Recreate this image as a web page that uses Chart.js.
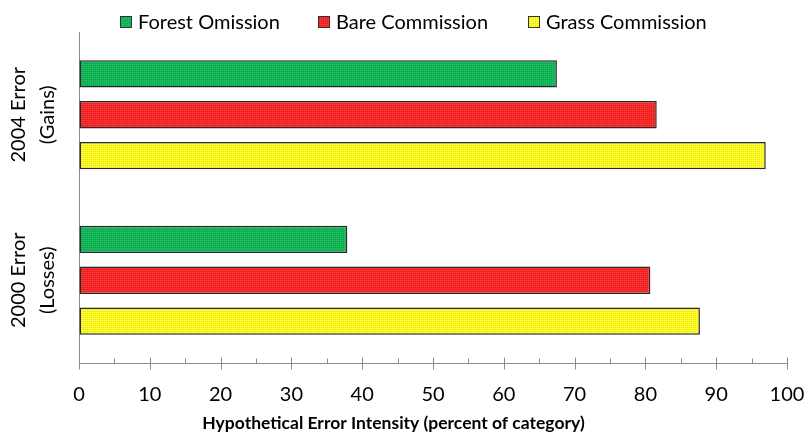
<!DOCTYPE html>
<html>
<head>
<meta charset="utf-8">
<script src="https://cdn.jsdelivr.net/npm/chart.js@4/dist/chart.umd.min.js"></script>
<style>
  html, body { margin: 0; padding: 0; background: #fff; }
  #wrap { width: 807px; height: 434px; }
</style>
</head>
<body>
<div id="wrap"><canvas id="errorChart" width="807" height="434"></canvas></div>
<script>
// values
const categories = [['2004 Error', '(Gains)'], ['2000 Error', '(Losses)']];
const seriesNames = ['Forest Omission', 'Bare Commission', 'Grass Commission'];
const forestOmission = [67.5, 37.9];
const bareCommission = [81.6, 80.7];
const grassCommission = [97.0, 87.7];
const xTickValues = [0, 10, 20, 30, 40, 50, 60, 70, 80, 90, 100];
const xTitle = 'Hypothetical Error Intensity (percent of category)';

const FONT = 'Lato, "Open Sans", sans-serif';

// excel-like dotted fill
const makePattern = (base, dot) => {
    const c = document.createElement('canvas');
    c.width = 2; c.height = 2;
    const g = c.getContext('2d');
    g.fillStyle = base;
    g.fillRect(0, 0, 2, 2);
    g.fillStyle = dot;
    g.fillRect(1, 1, 1, 1);
    return g.createPattern(c, 'repeat');
};

const fills = [
    makePattern('#18bd5e', '#0f9a48'),
    makePattern('#ff2e2e', '#cf1f1f'),
    makePattern('#ffff28', '#e6dc1c')
];

// legend box left edges, as in the picture
const legendBoxX = [120, 318, 528];

const topLegend = {
    id: 'topLegend',
    afterDraw(chart) {
        const ctx = chart.ctx;
        ctx.save();
        ctx.font = '20px ' + FONT;
        ctx.textBaseline = 'middle';
        ctx.textAlign = 'left';
        const box = 12, y = 22;
        chart.data.datasets.forEach((d, i) => {
            const bx = legendBoxX[i];
            ctx.fillStyle = d.backgroundColor;
            ctx.fillRect(bx, y - 6, box, box);
            ctx.strokeStyle = '#333';
            ctx.lineWidth = 1;
            ctx.strokeRect(bx + 0.5, y - 6 + 0.5, box - 1, box - 1);
            ctx.fillStyle = '#000';
            ctx.fillText(d.label, bx + box + 6, y + 1);
        });
        ctx.restore();
    }
};

const axisExtras = {
    id: 'axisExtras',
    afterDraw(chart) {
        const ctx = chart.ctx;
        const xs = chart.scales.x, ys = chart.scales.y;
        const yAxis = Math.round(chart.chartArea.bottom) + 0.5;
        ctx.save();
        // tick marks, major cross the axis, minor stay inside
        ctx.strokeStyle = '#8c8c8c';
        ctx.lineWidth = 1;
        for (let v = 0; v <= 100; v += 5) {
            const px = Math.round(xs.getPixelForValue(v)) + 0.5;
            ctx.beginPath();
            if (v % 10 === 0) {
                ctx.moveTo(px, yAxis - 6);
                ctx.lineTo(px, yAxis + 6);
            } else {
                ctx.moveTo(px, yAxis - 5);
                ctx.lineTo(px, yAxis);
            }
            ctx.stroke();
        }
        // rotated category labels
        ctx.fillStyle = '#000';
        ctx.font = '20px ' + FONT;
        ctx.textAlign = 'center';
        ctx.textBaseline = 'middle';
        const lineX = [19, 48];
        chart.data.labels.forEach((lab, i) => {
            const py = ys.getPixelForValue(i);
            lab.forEach((line, j) => {
                ctx.save();
                ctx.translate(lineX[j], py);
                ctx.rotate(-Math.PI / 2);
                ctx.fillText(line, 0, 0);
                ctx.restore();
            });
        });
        ctx.restore();
    }
};

const seriesData = [forestOmission, bareCommission, grassCommission];

new Chart('errorChart', {
    type: 'bar',
    data: {
        labels: categories,
        datasets: seriesNames.map((name, i) => ({
            label: name,
            data: seriesData[i],
            backgroundColor: fills[i],
            borderColor: '#2a2a2a',
            borderWidth: 1.5,
            borderSkipped: false,
            categoryPercentage: 0.741,
            barPercentage: 0.67
        }))
    },
    options: {
        indexAxis: 'y',
        responsive: false,
        animation: false,
        devicePixelRatio: 1,
        layout: {
            padding: { top: 32, right: 20, left: 0, bottom: 0 }
        },
        plugins: {
            legend: { display: false },
            tooltip: { enabled: false },
            title: {
                display: true,
                position: 'bottom',
                text: xTitle,
                color: '#000',
                font: { family: FONT, size: 17.5, weight: 'bold' },
                padding: { top: 11, bottom: 0 }
            }
        },
        scales: {
            x: {
                min: 0,
                max: 100,
                afterBuildTicks: (scale) => {
                    scale.ticks = xTickValues.map(v => ({ value: v }));
                },
                afterFit: (scale) => {
                    scale.height = 39;
                    scale.paddingLeft = 0;
                    scale.paddingRight = 0;
                },
                grid: { drawOnChartArea: false, drawTicks: false },
                border: { display: true, color: '#8c8c8c', width: 1 },
                ticks: {
                    color: '#000',
                    padding: 20,
                    font: { family: FONT, size: 20 }
                }
            },
            y: {
                afterFit: (scale) => { scale.width = 79; },
                grid: { drawOnChartArea: false, drawTicks: false },
                border: { display: true, color: '#8c8c8c', width: 1 },
                ticks: { display: false }
            }
        }
    },
    plugins: [topLegend, axisExtras]
});
</script>
</body>
</html>
